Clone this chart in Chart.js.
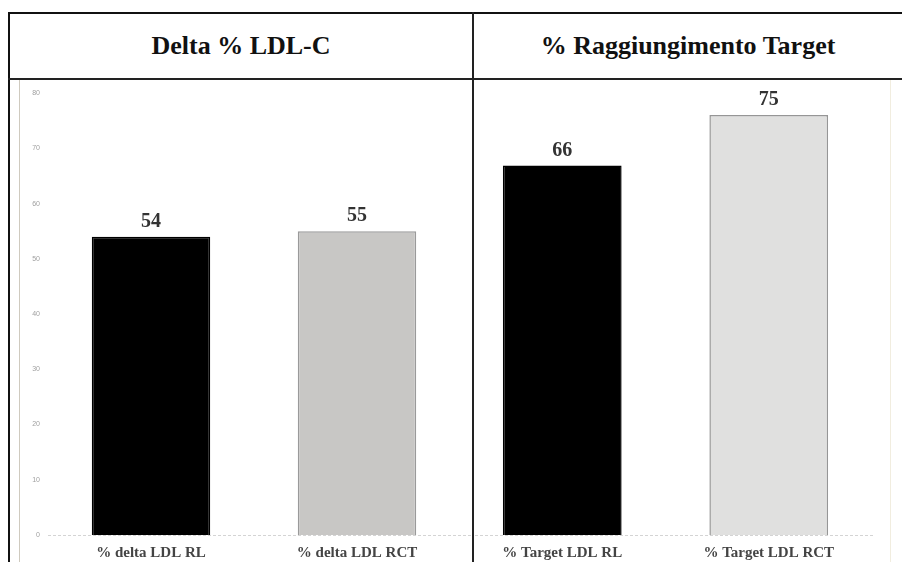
<!DOCTYPE html>
<html>
<head>
<meta charset="utf-8">
<script src="https://cdn.jsdelivr.net/npm/chart.js@4"></script>
<style>
  body { margin: 0; background: #fff; width: 902px; height: 562px; overflow: hidden; position: relative;
         font-family: "Liberation Serif", "Times New Roman", serif; }
  .line { position: absolute; }
  .title { position: absolute; top: 14px; height: 64px; line-height: 64px; text-align: center;
           font-weight: bold; font-size: 26px; color: #111; }
  canvas { position: absolute; top: 81px; }
</style>
</head>
<body>
<div class="line" style="left:8px;top:12px;width:894px;height:2px;background:#111"></div>
<div class="line" style="left:8px;top:12px;width:2px;height:550px;background:#111"></div>
<div class="line" style="left:8px;top:78px;width:894px;height:2px;background:#222"></div>
<div class="line" style="left:472px;top:12px;width:2px;height:550px;background:#222;z-index:2"></div>
<div class="line" style="left:19px;top:80px;width:1px;height:482px;background:#cfcabf"></div>
<div class="line" style="left:890px;top:80px;width:1px;height:482px;background:#f1eddf"></div>

<div class="title" style="left:10px;width:462px">Delta % LDL-C</div>
<div class="title" style="left:474px;width:428px">% Raggiungimento Target</div>

<canvas id="delta" width="463" height="481" style="left:10px"></canvas>
<canvas id="target" width="443" height="481" style="left:459px"></canvas>

<script>
// values
var deltaLabels = ['% delta LDL RL', '% delta LDL RCT'];
var deltaValues = [54, 55];
var targetLabels = ['% Target LDL RL', '% Target LDL RCT'];
var targetValues = [66, 75];
var yMax = 80;
var yStep = 10;

// dotted zero line, drawn wider than the plot area
var baseLine = {
  id: 'baseLine',
  afterDatasetsDraw: function (chart, args, opts) {
    var ctx = chart.ctx;
    var y = Math.round(chart.scales.y.getPixelForValue(0)) + 0.5;
    ctx.save();
    ctx.strokeStyle = '#d4d4d4';
    ctx.lineWidth = 1;
    ctx.setLineDash([3, 2]);
    ctx.beginPath();
    ctx.moveTo(opts.from, y);
    ctx.lineTo(opts.to, y);
    ctx.stroke();
    ctx.restore();
  }
};

// number above every bar
var barValues = {
  id: 'barValues',
  afterDatasetsDraw: function (chart) {
    var ctx = chart.ctx;
    var meta = chart.getDatasetMeta(0);
    var data = chart.data.datasets[0].data;
    ctx.save();
    ctx.font = 'bold 20px "Liberation Serif"';
    ctx.fillStyle = '#333';
    ctx.textAlign = 'center';
    ctx.textBaseline = 'bottom';
    meta.data.forEach(function (bar, i) {
      ctx.fillText(data[i], bar.x, bar.y - 5);
    });
    ctx.restore();
  }
};

function makeChart(id, labels, values, colors, borders, showY, pad, line) {
  return new Chart(document.getElementById(id).getContext('2d'), {
    type: 'bar',
    data: {
      labels: labels,
      datasets: [{
        data: values,
        backgroundColor: colors,
        borderColor: borders,
        borderWidth: 1.5,
        barPercentage: 0.575,
        categoryPercentage: 1
      }]
    },
    options: {
      responsive: false,
      animation: false,
      devicePixelRatio: 1,
      layout: { padding: pad },
      plugins: {
        legend: { display: false },
        tooltip: { enabled: false },
        baseLine: line
      },
      scales: {
        x: {
          grid: { display: false, drawTicks: false },
          border: { display: false },
          ticks: { color: '#444', padding: 9, font: { family: 'Liberation Serif', size: 15, weight: 'bold' } },
          afterFit: function (s) { s.height = 27; }
        },
        y: {
          display: showY,
          min: 0,
          max: yMax,
          grid: { display: false, drawTicks: false },
          border: { display: false },
          ticks: { stepSize: yStep, color: '#a0a0a0', padding: 8, font: { family: 'Liberation Sans', size: 7 } },
          afterFit: function (s) { s.width = showY ? 38 : 0; }
        }
      }
    },
    plugins: [baseLine, barValues]
  });
}

makeChart('delta', deltaLabels, deltaValues,
  ['#000000', '#c8c7c5'], ['#000000', '#9a9a9a'], true,
  { top: 6, right: 13, left: 0, bottom: 0 }, { from: 38, to: 463 });

makeChart('target', targetLabels, targetValues,
  ['#000000', '#e0e0df'], ['#000000', '#969696'], false,
  { top: 6, right: 30, left: 0, bottom: 0 }, { from: 16, to: 414 });
</script>
</body>
</html>
